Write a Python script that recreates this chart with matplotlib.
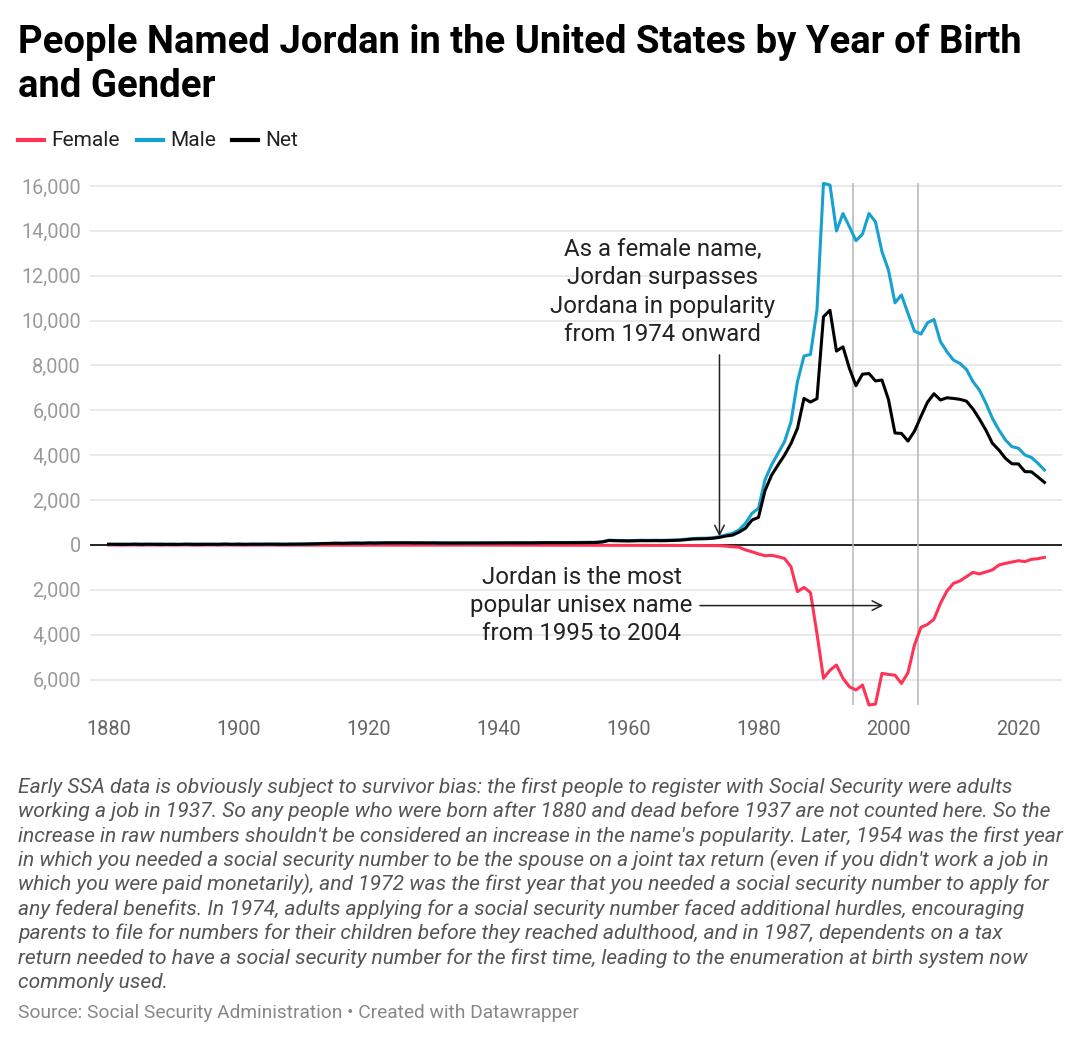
import matplotlib
matplotlib.use("Agg")
import matplotlib.pyplot as plt
from matplotlib.lines import Line2D

plt.rcParams['font.family'] = ['Roboto', 'DejaVu Sans']

# --- data ---
years = list(range(1880, 2025))

male = [
    # 1880-1909
    32, 30, 34, 29, 36, 33, 35, 31, 38, 30, 34, 28, 37, 33, 36, 35, 32, 34, 39, 30,
    41, 33, 36, 38, 35, 37, 40, 36, 42, 39,
    # 1910-1939
    45, 52, 60, 68, 75, 82, 78, 85, 90, 84, 95, 92, 98, 102, 105, 100, 104, 98, 101, 96,
    99, 94, 92, 90, 93, 95, 92, 96, 98, 97,
    # 1940-1955
    100, 102, 106, 104, 103, 101, 108, 112, 110, 107, 109, 111, 113, 118, 120, 124,
    # 1956-1973
    150, 215, 205, 200, 196, 202, 210, 206, 212, 208, 214, 225, 236, 262, 290, 300, 305, 325,
    # 1974-1999
    370, 450, 520, 670, 965, 1410, 1630, 2900, 3560, 4080, 4600, 5490, 7280, 8420, 8490,
    10470, 16110, 16040, 13990, 14770, 14180, 13560, 13850, 14770, 14400, 13070,
    # 2000-2024
    12250, 10790, 11140, 10320, 9530, 9400, 9900, 10050, 9060, 8610, 8240, 8090, 7820,
    7280, 6900, 6310, 5640, 5120, 4680, 4380, 4310, 4010, 3900, 3640, 3340,
]

female = [
    # 1880-1909
    0, 0, 5, 0, 0, 5, 0, 0, 6, 0, 5, 0, 0, 5, 6, 0, 0, 5, 0, 0, 6, 5, 0, 5, 0, 0, 6, 5, 5, 0,
    # 1910-1939
    5, 6, 7, 5, 8, 6, 7, 9, 8, 7, 6, 8, 7, 9, 8, 7, 8, 9, 8, 7, 6, 8, 7, 6, 7, 8, 6, 7, 8, 9,
    # 1940-1955
    8, 10, 9, 11, 10, 9, 11, 12, 10, 11, 12, 13, 11, 12, 14, 13,
    # 1956-1973
    14, 15, 16, 15, 17, 16, 18, 17, 19, 18, 20, 19, 21, 20, 22, 24, 25, 27,
    # 1974-1999
    30, 50, 80, 100, 220, 300, 400, 480, 460, 520, 600, 970, 2080, 1890, 2120,
    3950, 5940, 5580, 5350, 5940, 6320, 6460, 6240, 7130, 7090, 5720,
    # 2000-2024
    5770, 5800, 6170, 5690, 4460, 3670, 3540, 3310, 2600, 2050, 1710, 1600, 1410,
    1220, 1290, 1200, 1110, 890, 820, 760, 700, 740, 640, 610, 550,
]

net = [m - f for m, f in zip(male, female)]
female_plot = [-f for f in female]

y_ticks = [-6000, -4000, -2000, 0, 2000, 4000, 6000, 8000, 10000, 12000, 14000, 16000]
x_ticks = [1880, 1900, 1920, 1940, 1960, 1980, 2000, 2020]
unisex_span = (1994.5, 2004.5)

C_FEMALE = '#ff3355'
C_MALE = '#17a1cf'
C_NET = '#000000'
C_TEXT = '#222222'

W, H = 1080, 1045
fig = plt.figure(figsize=(W / 100, H / 100), dpi=100)


def fy(px):
    # pixel row (from top) -> figure fraction
    return 1 - px / H


# axes placed in pixel terms
ax_l, ax_r, ax_t, ax_b = 90, 1062, 183, 705
ax = fig.add_axes([ax_l / W, fy(ax_b), (ax_r - ax_l) / W, (ax_b - ax_t) / H])
ax.set_xlim(1877.15, 2026.7)
ax.set_ylim(-7130, 16130)
for s in ax.spines.values():
    s.set_visible(False)

ax.set_yticks(y_ticks)
ax.set_yticklabels([f"{abs(v):,}" for v in y_ticks])
ax.set_xticks(x_ticks)
ax.set_xticklabels([str(v) for v in x_ticks])
ax.tick_params(axis='y', length=0, pad=6.5, labelsize=14.3, labelcolor='#9a9a9a')
ax.tick_params(axis='x', length=0, pad=11, labelsize=14.3, labelcolor='#666666')

for v in y_ticks:
    if v != 0:
        ax.axhline(v, color='#e3e3e3', lw=1.1, zorder=0)
ax.axhline(0, color='black', lw=1.2, zorder=1)

for xv in unisex_span:
    ax.axvline(xv, color='#b5b5b5', lw=1.1, zorder=1)

ax.plot(years, female_plot, color=C_FEMALE, lw=2.2, zorder=3, clip_on=False,
        solid_joinstyle='round')
ax.plot(years, male, color=C_MALE, lw=2.2, zorder=4, clip_on=False, solid_joinstyle='round')
ax.plot(years, net, color=C_NET, lw=2.2, zorder=5, clip_on=False, solid_joinstyle='round')

# annotations
ax.text(1965.3, 11280,
        "As a female name,\nJordan surpasses\nJordana in popularity\nfrom 1974 onward",
        ha='center', va='center', fontsize=17.3, color=C_TEXT, linespacing=1.30)
ax.annotate("", xy=(1974, 380), xytext=(1974, 8470),
            arrowprops=dict(arrowstyle='->', color=C_TEXT, lw=1.1,
                            mutation_scale=17, shrinkA=0, shrinkB=0))

ax.text(1952.8, -2700,
        "Jordan is the most\npopular unisex name\nfrom 1995 to 2004",
        ha='center', va='center', fontsize=17.3, color=C_TEXT, linespacing=1.28)
ax.annotate("", xy=(1999.2, -2700), xytext=(1971.0, -2700),
            arrowprops=dict(arrowstyle='->', color=C_TEXT, lw=1.1,
                            mutation_scale=17, shrinkA=0, shrinkB=0))

# title
title_lines = ["People Named Jordan in the United States by Year of Birth", "and Gender"]
for txt, base in zip(title_lines, [53, 97]):
    fig.text(18 / W, fy(base), txt, ha='left', va='baseline', fontsize=27.5,
             fontweight='bold', color='#000000')

# legend
leg_y = fy(140)
items = [("Female", C_FEMALE, 18), ("Male", C_MALE, 137), ("Net", C_NET, 232)]
for label, col, x0 in items:
    fig.add_artist(Line2D([x0 / W, (x0 + 26) / W], [leg_y, leg_y], color=col, lw=3,
                          transform=fig.transFigure))
    fig.text((x0 + 33) / W, leg_y, label, ha='left', va='center', fontsize=15,
             color=C_TEXT)

caption_lines = [
    "Early SSA data is obviously subject to survivor bias: the first people to register with Social Security were adults",
    "working a job in 1937. So any people who were born after 1880 and dead before 1937 are not counted here. So the",
    "increase in raw numbers shouldn't be considered an increase in the name's popularity. Later, 1954 was the first year",
    "in which you needed a social security number to be the spouse on a joint tax return (even if you didn't work a job in",
    "which you were paid monetarily), and 1972 was the first year that you needed a social security number to apply for",
    "any federal benefits. In 1974, adults applying for a social security number faced additional hurdles, encouraging",
    "parents to file for numbers for their children before they reached adulthood, and in 1987, dependents on a tax",
    "return needed to have a social security number for the first time, leading to the enumeration at birth system now",
    "commonly used.",
]
for i, txt in enumerate(caption_lines):
    fig.text(18 / W, fy(793 + i * 24.4), txt, ha='left', va='baseline', fontsize=15.1,
             style='italic', color='#555555')

fig.text(18 / W, fy(1018), "Source: Social Security Administration \u2022 Created with Datawrapper",
         ha='left', va='baseline', fontsize=13.8, color='#888888')

fig.savefig("out.png", dpi=100)
